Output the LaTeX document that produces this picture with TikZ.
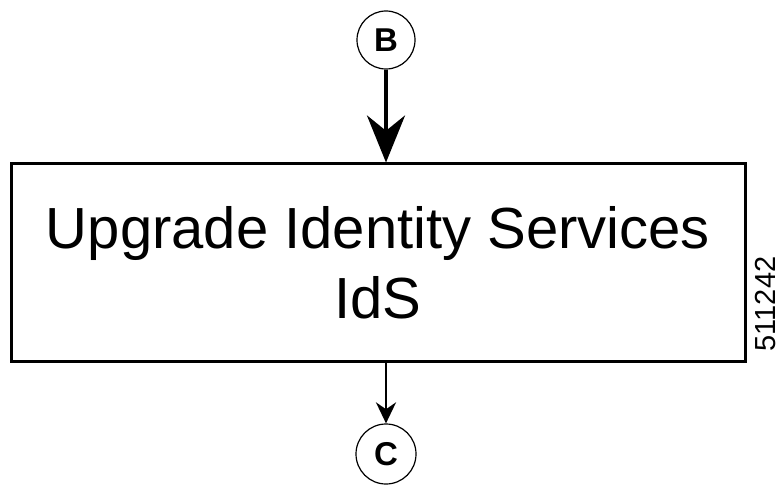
\documentclass[tikz,border=0pt]{standalone}
\usepackage{fontspec}
\setmainfont{Liberation Sans}
\usetikzlibrary{arrows.meta}
\begin{document}
\begin{tikzpicture}[x=1pt,y=-1pt,
        conn/.style={circle, draw, line width=1.2pt, inner sep=0pt, font=\fontsize{33}{33}\selectfont\bfseries},
        stepbox/.style={draw, line width=3pt, minimum width=734pt, minimum height=197pt, align=center, inner sep=0pt, font=\fontsize{58}{70}\selectfont}]
        \useasboundingbox (0,0) rectangle (784,489);
        % Box %
        \node [stepbox] (upgrade) at (378,262.5) {Upgrade Identity Services\\IdS};
        % Connectors %
        \node [conn, minimum size=58pt] (B) at (386,40) {B};
        \node [conn, minimum size=60pt] (C) at (386,454) {C};
        % Arrows %
        \draw [line width=4pt, -{Stealth[length=47pt,width=38pt]}] (B.south) -- (B.south |- upgrade.north);
        \draw [line width=2.5pt, -{Stealth[length=21pt,width=20pt]}] (C.north |- upgrade.south) -- (C.north);
        % Figure number %
        \node [rotate=90, font=\fontsize{29}{29}\selectfont] (fignum) at (766,304) {511242};
\end{tikzpicture}
\end{document}
